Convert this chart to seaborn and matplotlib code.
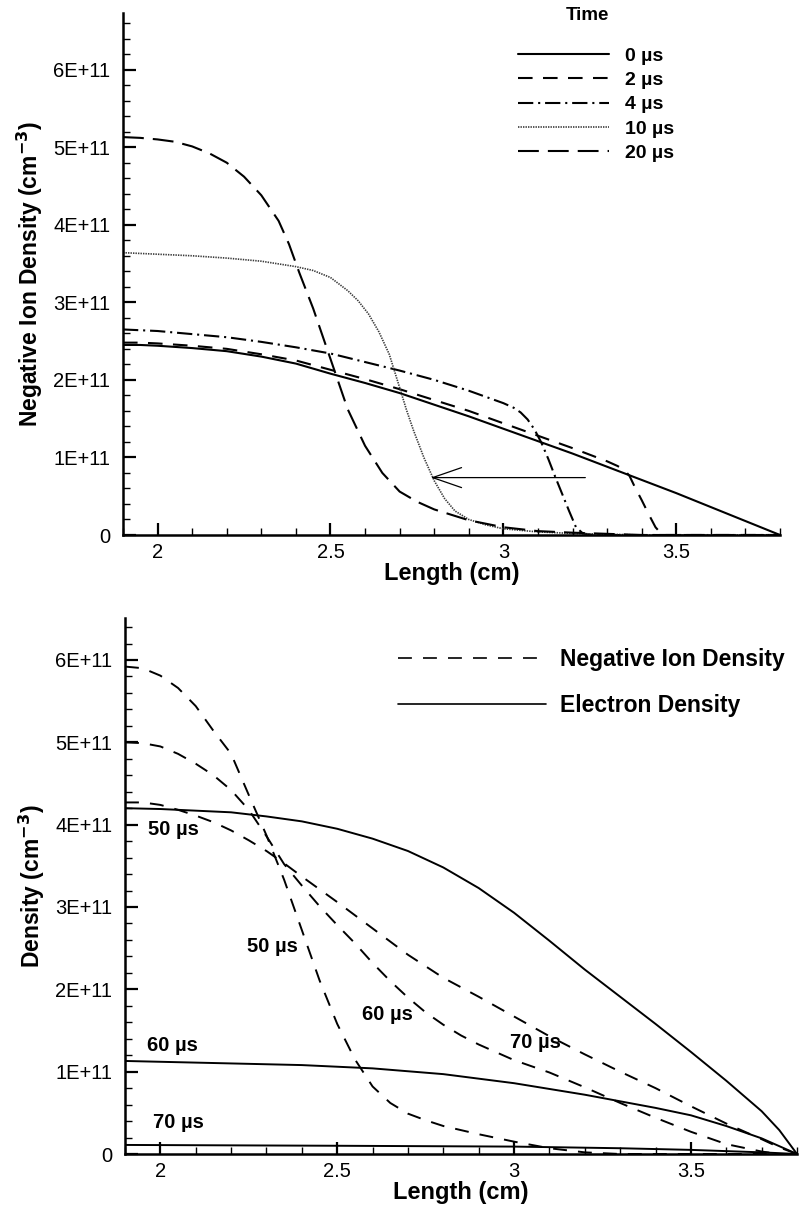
import numpy as np
import pandas as pd
import matplotlib
matplotlib.use("Agg")
import matplotlib.pyplot as plt
import seaborn as sns
from matplotlib.ticker import MultipleLocator, FuncFormatter

# ---------------- data (densities in units of 1E+11 cm^-3) ----------------
SCALE = 1e11

# Top panel: negative ion density at different times
x_0us = [1.9, 1.95, 2.0, 2.1, 2.2, 2.3, 2.4, 2.5, 2.6, 2.7, 2.8, 2.9, 3.0, 3.1, 3.2, 3.3, 3.4, 3.5, 3.6, 3.7, 3.8]
y_0us = [2.45, 2.45, 2.44, 2.41, 2.37, 2.30, 2.21, 2.08, 1.96, 1.83, 1.68, 1.53, 1.37, 1.21, 1.05, 0.88, 0.71, 0.54, 0.36, 0.18, 0.0]

x_2us = [1.9, 1.95, 2.0, 2.1, 2.2, 2.3, 2.4, 2.5, 2.6, 2.7, 2.8, 2.9, 3.0, 3.1, 3.2, 3.3, 3.33, 3.35,
         3.365, 3.38, 3.40, 3.42, 3.44, 3.46, 3.8]
y_2us = [2.48, 2.48, 2.47, 2.44, 2.40, 2.33, 2.25, 2.13, 2.01, 1.88, 1.74, 1.60, 1.44, 1.28, 1.12, 0.95, 0.89, 0.84,
         0.76, 0.62, 0.45, 0.27, 0.10, 0.0, 0.0]

x_4us = [1.9, 2.0, 2.1, 2.2, 2.3, 2.4, 2.5, 2.6, 2.7, 2.8, 2.9, 2.95, 3.0, 3.03, 3.05, 3.07, 3.09, 3.11,
         3.13, 3.15, 3.17, 3.19, 3.21, 3.23, 3.26, 3.8]
y_4us = [2.65, 2.63, 2.59, 2.55, 2.49, 2.42, 2.34, 2.23, 2.12, 2.00, 1.86, 1.78, 1.70, 1.64, 1.58, 1.49, 1.36, 1.19,
         0.98, 0.75, 0.53, 0.31, 0.10, 0.02, 0.0, 0.0]

x_10us = [1.9, 2.0, 2.1, 2.2, 2.3, 2.4, 2.45, 2.5, 2.55, 2.58, 2.61, 2.64, 2.67, 2.7, 2.72, 2.74, 2.77, 2.8,
          2.83, 2.86, 2.9, 2.95, 3.0, 3.1, 3.2, 3.3, 3.4, 3.8]
y_10us = [3.64, 3.62, 3.60, 3.57, 3.53, 3.46, 3.41, 3.32, 3.15, 3.02, 2.85, 2.62, 2.33, 1.90, 1.61, 1.35, 1.00, 0.70,
          0.47, 0.31, 0.20, 0.13, 0.08, 0.04, 0.02, 0.01, 0.0, 0.0]

x_20us = [1.9, 1.95, 2.0, 2.05, 2.1, 2.15, 2.2, 2.25, 2.3, 2.35, 2.38, 2.41, 2.45, 2.5, 2.55, 2.6, 2.65,
          2.7, 2.75, 2.8, 2.9, 3.0, 3.1, 3.2, 3.4, 3.8]
y_20us = [5.13, 5.12, 5.10, 5.07, 5.01, 4.92, 4.80, 4.62, 4.38, 4.05, 3.75, 3.38, 2.92, 2.27, 1.62, 1.15, 0.80,
          0.56, 0.43, 0.33, 0.19, 0.10, 0.05, 0.03, 0.0, 0.0]

top_labels = ["0 µs", "2 µs", "4 µs", "10 µs", "20 µs"]

# Bottom panel: negative ion density (dashed) and electron density (solid)
x_ion50 = [1.9, 1.95, 2.0, 2.05, 2.1, 2.15, 2.2, 2.25, 2.3, 2.35, 2.4, 2.45, 2.5, 2.55, 2.6, 2.65, 2.7, 2.75,
           2.8, 2.9, 3.0, 3.1, 3.2, 3.3, 3.8]
y_ion50 = [5.92, 5.90, 5.81, 5.66, 5.44, 5.14, 4.86, 4.36, 3.87, 3.33, 2.72, 2.11, 1.58, 1.15, 0.82, 0.62, 0.49, 0.41,
           0.34, 0.24, 0.15, 0.07, 0.02, 0.0, 0.0]

x_ion60 = [1.9, 1.95, 2.0, 2.05, 2.1, 2.15, 2.2, 2.25, 2.3, 2.35, 2.4, 2.45, 2.5, 2.55, 2.6, 2.65, 2.7, 2.75,
           2.8, 2.85, 2.9, 3.0, 3.1, 3.2, 3.3, 3.4, 3.5, 3.6, 3.7, 3.75, 3.8]
y_ion60 = [5.00, 4.99, 4.95, 4.86, 4.74, 4.60, 4.42, 4.18, 3.86, 3.52, 3.26, 3.01, 2.78, 2.56, 2.32, 2.10, 1.90, 1.72,
           1.57, 1.44, 1.33, 1.14, 0.99, 0.81, 0.62, 0.44, 0.27, 0.12, 0.03, 0.0, 0.0]

x_ion70 = [1.9, 1.95, 2.0, 2.05, 2.1, 2.15, 2.2, 2.25, 2.3, 2.35, 2.4, 2.5, 2.6, 2.7, 2.8, 2.9, 3.0, 3.1, 3.2,
           3.3, 3.4, 3.5, 3.6, 3.7, 3.75, 3.8]
y_ion70 = [4.27, 4.27, 4.24, 4.18, 4.11, 4.03, 3.93, 3.81, 3.68, 3.53, 3.37, 3.06, 2.74, 2.42, 2.14, 1.91, 1.67, 1.43, 1.21,
           1.00, 0.80, 0.58, 0.37, 0.18, 0.08, 0.0]

x_el50 = [1.9, 2.0, 2.1, 2.2, 2.3, 2.4, 2.5, 2.6, 2.7, 2.8, 2.9, 3.0, 3.1, 3.2, 3.3, 3.4, 3.5, 3.6, 3.7, 3.75, 3.8]
y_el50 = [4.20, 4.19, 4.17, 4.15, 4.10, 4.04, 3.95, 3.83, 3.68, 3.48, 3.23, 2.93, 2.59, 2.24, 1.91, 1.58, 1.24, 0.89, 0.52, 0.29, 0.0]

x_el60 = [1.9, 2.0, 2.2, 2.4, 2.6, 2.8, 3.0, 3.2, 3.4, 3.5, 3.6, 3.7, 3.8]
y_el60 = [1.13, 1.12, 1.10, 1.08, 1.04, 0.97, 0.86, 0.72, 0.56, 0.47, 0.34, 0.19, 0.0]

x_el70 = [1.9, 2.5, 3.0, 3.3, 3.5, 3.7, 3.8]
y_el70 = [0.11, 0.10, 0.09, 0.07, 0.05, 0.02, 0.0]

bottom_legend_labels = ["Negative Ion Density", "Electron Density"]

# curve annotations (bottom panel)
ann_text = ["50 µs", "60 µs", "70 µs", "50 µs", "60 µs", "70 µs"]
ann_x = [1.966, 1.963, 1.978, 2.244, 2.570, 2.989]
ann_y = [3.94, 1.32, 0.38, 2.52, 1.69, 1.36]

# arrow (top panel)
arrow_x = [3.237, 2.79]
arrow_y = [0.74, 0.74]

# ---------------- style ----------------
sns.set_style("ticks")
plt.rcParams["font.family"] = ["Liberation Sans", "DejaVu Sans"]
plt.rcParams["lines.scale_dashes"] = False
for k in ["text.color", "axes.labelcolor", "xtick.color", "ytick.color", "axes.edgecolor"]:
    plt.rcParams[k] = "black"

fig = plt.figure(figsize=(8.01, 12.08), dpi=100)
ax1 = fig.add_axes([123 / 801, 1 - 535 / 1208, (780 - 123) / 801, (535 - 13) / 1208])
ax2 = fig.add_axes([125 / 801, 1 - 1154 / 1208, (797 - 125) / 801, (1154 - 618) / 1208])


def frame(x, y):
    return pd.DataFrame({"x": np.asarray(x, float), "y": np.asarray(y, float) * SCALE})


top_series = [(x_0us, y_0us), (x_2us, y_2us), (x_4us, y_4us), (x_10us, y_10us), (x_20us, y_20us)]
top_styles = [
    dict(linestyle="-", lw=1.5, color="black"),
    dict(linestyle=(0, (10.5, 7.5)), lw=1.5, color="black"),
    dict(linestyle=(0, (11, 3.5, 1.5, 3.5)), lw=1.5, color="black"),
    dict(linestyle=(0, (1.0, 0.8)), lw=1.2, color="#3a3a3a"),
    dict(linestyle=(0, (15, 6.5)), lw=1.5, color="black"),
]
for (xs, ys), st, lab in zip(top_series, top_styles, top_labels):
    sns.lineplot(data=frame(xs, ys), x="x", y="y", ax=ax1, estimator=None, label=lab, **st)

ion_style = dict(linestyle=(0, (10, 8)), lw=1.4, color="black")
el_style = dict(linestyle="-", lw=1.4, color="black")
for i, (xs, ys) in enumerate([(x_ion50, y_ion50), (x_ion60, y_ion60), (x_ion70, y_ion70)]):
    sns.lineplot(data=frame(xs, ys), x="x", y="y", ax=ax2, estimator=None,
                 label=bottom_legend_labels[0] if i == 0 else None, **ion_style)
for i, (xs, ys) in enumerate([(x_el50, y_el50), (x_el60, y_el60), (x_el70, y_el70)]):
    sns.lineplot(data=frame(xs, ys), x="x", y="y", ax=ax2, estimator=None,
                 label=bottom_legend_labels[1] if i == 0 else None, **el_style)

# arrow
ax1.annotate("", xy=(arrow_x[1], arrow_y[1] * SCALE), xytext=(arrow_x[0], arrow_y[0] * SCALE),
             arrowprops=dict(arrowstyle="->,head_length=1.3,head_width=0.45", lw=0.9,
                             color="black", shrinkA=0, shrinkB=0, mutation_scale=16))

for t, xx, yy in zip(ann_text, ann_x, ann_y):
    ax2.text(xx, yy * SCALE, t, ha="left", va="center", fontsize=14.5, fontweight="bold", color="black")


def yfmt(v, pos):
    if abs(v) < 1:
        return "0"
    return f"{v / SCALE:.0f}E+11"


for ax, ytop in [(ax1, 6.73e11), (ax2, 6.51e11)]:
    ax.set_xlim(1.9, 3.8)
    ax.set_ylim(0, ytop)
    ax.xaxis.set_major_locator(MultipleLocator(0.5))
    ax.xaxis.set_minor_locator(MultipleLocator(0.1))
    ax.yaxis.set_major_locator(MultipleLocator(1e11))
    ax.yaxis.set_minor_locator(MultipleLocator(2e10))
    ax.yaxis.set_major_formatter(FuncFormatter(yfmt))
    ax.xaxis.set_major_formatter(FuncFormatter(lambda v, p: f"{v:g}"))
    for s in ["top", "right"]:
        ax.spines[s].set_visible(False)
    for s in ["left", "bottom"]:
        ax.spines[s].set_linewidth(1.8)
        ax.spines[s].set_color("black")
    ax.tick_params(which="both", colors="black", labelcolor="black")
    ax.tick_params(which="major", direction="in", length=9, width=1.6, labelsize=14.5)
    ax.tick_params(which="minor", direction="in", length=5, width=1.0)
    ax.tick_params(axis="y", which="major", pad=9)
    ax.tick_params(axis="x", which="major", pad=6)
    ax.set_xlabel("Length (cm)", fontsize=17, fontweight="bold", labelpad=0, color="black")
    ax.set_facecolor("white")

ax1.set_ylabel("Negative Ion Density (cm$^{\\mathbf{-3}}$)", fontsize=16.5, fontweight="bold", labelpad=6, color="black")
ax2.set_ylabel("Density (cm$^{\\mathbf{-3}}$)", fontsize=16.5, fontweight="bold", labelpad=6, color="black")

# legends
h1, l1 = ax1.get_legend_handles_labels()
leg1 = ax1.legend(h1, l1, loc="upper left", bbox_to_anchor=(518 / 801, 1 - 47 / 1208),
                  bbox_transform=fig.transFigure, frameon=False,
                  prop=dict(family="Liberation Sans", weight="bold", size=14),
                  handlelength=4.7, handletextpad=0.8, labelspacing=0.35,
                  borderpad=0, borderaxespad=0, labelcolor="black")
fig.text(587 / 801, 1 - 16 / 1208, "Time", ha="center", va="center", fontsize=13.5,
         fontweight="bold", color="black")

h2, l2 = ax2.get_legend_handles_labels()
leg2 = ax2.legend(h2, l2, loc="upper left", bbox_to_anchor=(398 / 801, 1 - 648 / 1208),
                  bbox_transform=fig.transFigure, frameon=False,
                  prop=dict(family="Liberation Sans", weight="bold", size=16.5),
                  handlelength=6.46, handletextpad=0.61, labelspacing=1.0,
                  borderpad=0, borderaxespad=0, labelcolor="black")
for ln in leg2.get_lines():
    ln.set_linewidth(1.2)

fig.savefig("out.png", dpi=100, facecolor="white")
